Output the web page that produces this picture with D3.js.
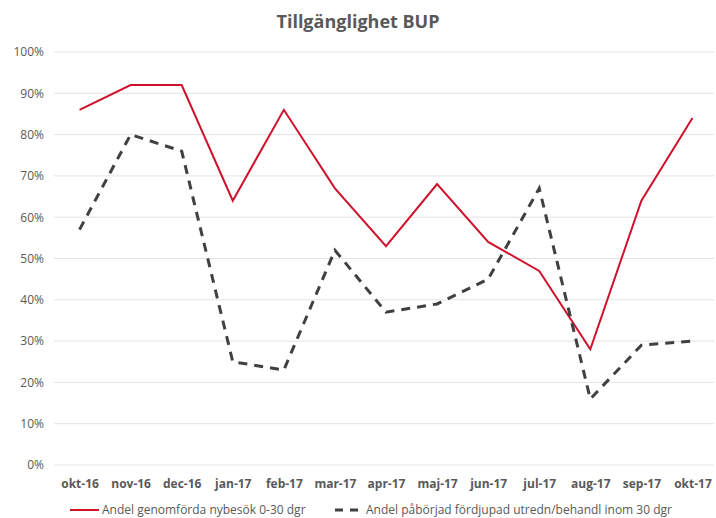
<!DOCTYPE html>
<html>
<head>
<meta charset="utf-8">
<script src="https://cdn.jsdelivr.net/npm/d3@7"></script>
<style>
  body { margin: 0; background: #fff; }
  text { font-family: "Open Sans", sans-serif; }
</style>
</head>
<body>
<svg id="chart" width="716" height="518"></svg>
<script>
var months = ["okt-16", "nov-16", "dec-16", "jan-17", "feb-17", "mar-17", "apr-17",
              "maj-17", "jun-17", "jul-17", "aug-17", "sep-17", "okt-17"];
var nybesok = [86, 92, 92, 64, 86, 67, 53, 68, 54, 47, 28, 64, 84];
var fordjupad = [57, 80, 76, 25, 23, 52, 37, 39, 45, 67, 16, 29, 30];
var yTicks = [0, 10, 20, 30, 40, 50, 60, 70, 80, 90, 100];
var seriesNames = ["Andel genomförda nybesök 0-30 dgr", "Andel påbörjad fördjupad utredn/behandl inom 30 dgr"];

var svg = d3.select("#chart");
var plotLeft = 54, plotRight = 718, plotTop = 52, plotBottom = 465;

var x = d3.scalePoint().domain(months).range([plotLeft, plotRight]).padding(0.5);
var y = d3.scaleLinear().domain([0, 100]).range([plotBottom, plotTop]);

// title
svg.append("text")
    .attr("x", 358).attr("y", 28)
    .attr("text-anchor", "middle")
    .style("font-size", "18px").style("font-weight", "bold")
    .style("fill", "#595959")
    .text("Tillgänglighet BUP");

// grid
svg.append("g")
  .selectAll("line")
  .data(yTicks)
  .enter().append("line")
    .attr("x1", plotLeft).attr("x2", 714)
    .attr("y1", d => y(d)).attr("y2", d => y(d))
    .style("stroke", "#e3e3e3").style("stroke-width", 1);

// y axis
var yAxis = d3.axisLeft(y).tickValues(yTicks).tickSize(0).tickPadding(8).tickFormat(d => d + "%");
svg.append("g")
    .attr("transform", "translate(" + (plotLeft - 2) + ",0)")
    .call(yAxis)
    .call(g => g.select(".domain").remove())
    .selectAll("text")
    .style("font-size", "12px").style("fill", "#595959");

// x axis
var xAxis = d3.axisBottom(x).tickSize(0).tickPadding(14);
svg.append("g")
    .attr("transform", "translate(0," + plotBottom + ")")
    .call(xAxis)
    .call(g => g.select(".domain").remove())
    .selectAll("text")
    .style("font-size", "12px").style("font-weight", "bold").style("fill", "#595959");

var line = d3.line().x((d, i) => x(months[i])).y(d => y(d));

svg.append("path")
    .datum(nybesok)
    .attr("d", line)
    .style("fill", "none").style("stroke", "#d0112b").style("stroke-width", 2);

svg.append("path")
    .datum(fordjupad)
    .attr("d", line)
    .style("fill", "none").style("stroke", "#404040").style("stroke-width", 3)
    .style("stroke-dasharray", "9,7");

// legend
var legend = svg.append("g");
legend.append("line")
    .attr("x1", 70).attr("x2", 99).attr("y1", 510).attr("y2", 510)
    .style("stroke", "#d0112b").style("stroke-width", 2);
legend.append("text")
    .attr("x", 102).attr("y", 514)
    .style("font-size", "12px").style("fill", "#595959")
    .text(seriesNames[0]);
legend.append("line")
    .attr("x1", 335).attr("x2", 363).attr("y1", 510).attr("y2", 510)
    .style("stroke", "#404040").style("stroke-width", 3)
    .style("stroke-dasharray", "8,7");
legend.append("text")
    .attr("x", 366).attr("y", 514)
    .style("font-size", "12px").style("fill", "#595959")
    .text(seriesNames[1]);
</script>
</body>
</html>
